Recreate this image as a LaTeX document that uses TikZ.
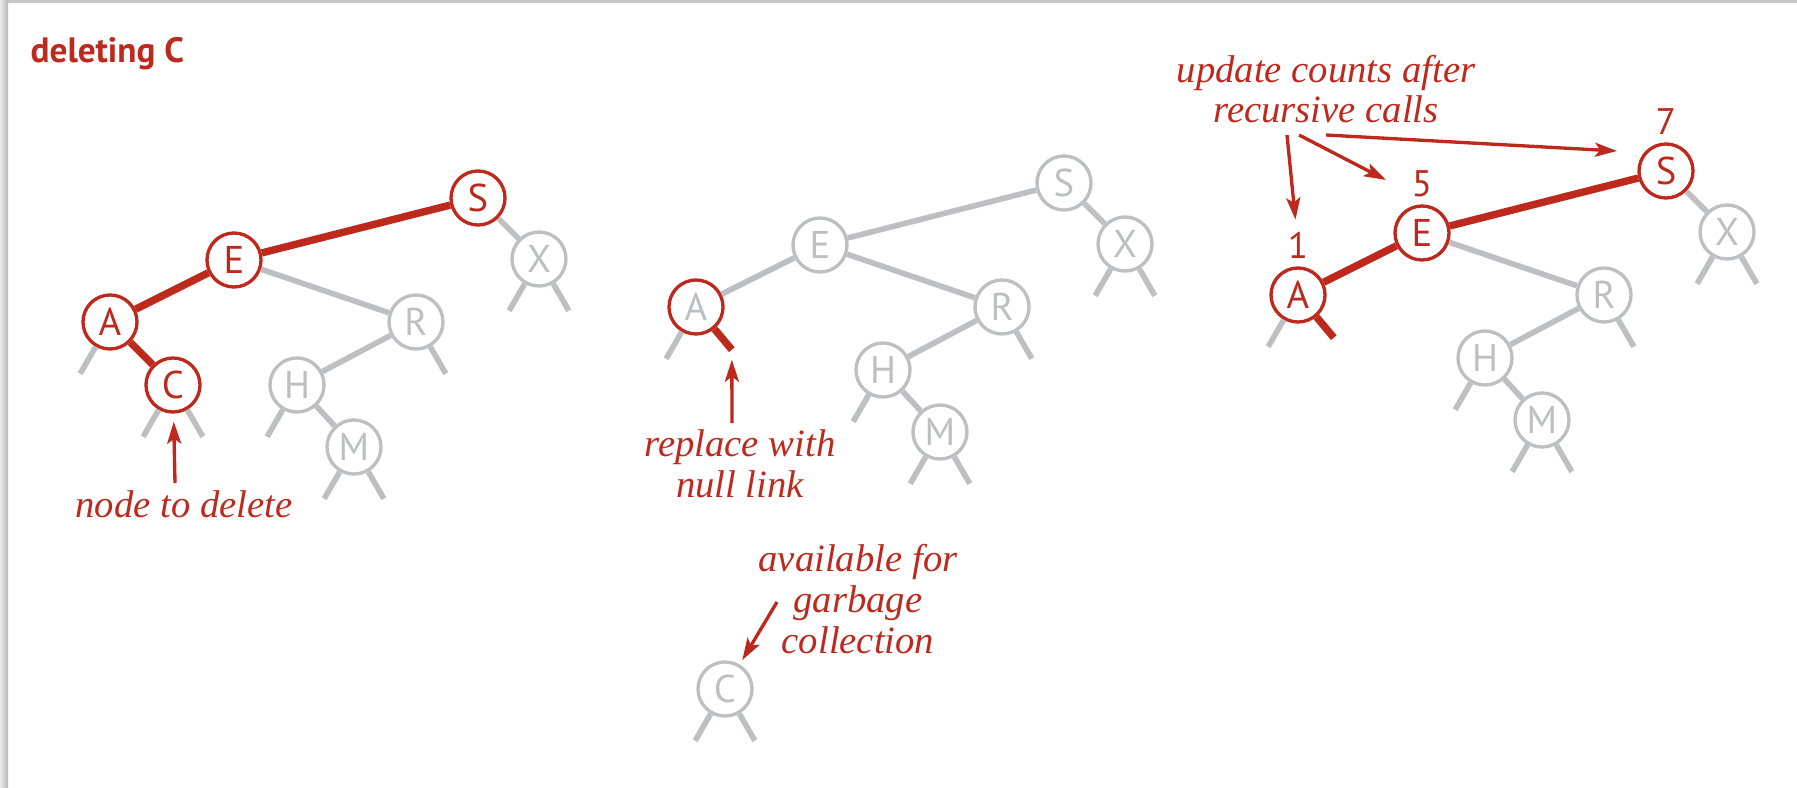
\documentclass[tikz,border=0pt]{standalone}
\usepackage{fontspec}
\setmainfont{Liberation Serif}
\setsansfont{PT Sans}
\usepackage{tikz}
\usetikzlibrary{arrows.meta, positioning}
\usepackage{xcolor}
\definecolor{vermelho}{RGB}{190,41,30}
\definecolor{cinza}{RGB}{190,191,195}

\begin{document}
\begin{tikzpicture}[x=0.01cm, y=-0.01cm,
    vertice/.style={circle, draw=cinza, text=cinza, fill=white, line width=0.95pt,
      minimum size=0.54cm, inner sep=0pt, font=\sffamily\fontsize{11}{11}\selectfont},
    ativo/.style={draw=vermelho, text=vermelho},
    aresta/.style={cinza, line width=1.6pt},
    arestaativa/.style={vermelho, line width=2.1pt},
    seta/.style={vermelho, line width=0.95pt, -{Stealth[length=0.22cm, width=0.14cm, inset=0.05cm]}},
    nota/.style={text=vermelho, font=\itshape\fontsize{11}{11.6}\selectfont, align=center, inner sep=0pt},
    numero/.style={text=vermelho, font=\sffamily\fontsize{10.5}{10.5}\selectfont, inner sep=0pt}]
    \useasboundingbox (0,0) rectangle (1797,788);

    % Moldura (sombra)
    \shade[left color=black!8, right color=black!28] (0,0) rectangle (8,788);
    \fill[black!22] (8,0) rectangle (1797,3);

    % Titulo
    \node[anchor=base west, inner sep=0pt, text=vermelho, font=\sffamily\bfseries\fontsize{10}{10}\selectfont] (titulo) at (30,63) {deleting C};

    % Arvore 1
    \node[vertice, ativo] (s1) at (478,198) {S};
    \node[vertice, ativo] (e1) at (234,260) {E};
    \node[vertice] (x1) at (539,259) {X};
    \node[vertice, ativo] (a1) at (110,322) {A};
    \node[vertice] (r1) at (416,322) {R};
    \node[vertice, ativo] (c1) at (173,385) {C};
    \node[vertice] (h1) at (297,385) {H};
    \node[vertice] (m1) at (354,447) {M};
    \draw[arestaativa] (e1) -- (s1);
    \draw[arestaativa] (a1) -- (e1);
    \draw[arestaativa] (a1) -- (c1);
    \draw[aresta] (s1) -- (x1);
    \draw[aresta] (e1) -- (r1);
    \draw[aresta] (r1) -- (h1);
    \draw[aresta] (h1) -- (m1);

    % Arvore 2
    \begin{scope}[shift={(586,-15)}]
    \node[vertice] (s2) at (478,198) {S};
    \node[vertice] (e2) at (234,260) {E};
    \node[vertice] (x2) at (539,259) {X};
    \node[vertice, draw=vermelho] (a2) at (110,322) {A};
    \node[vertice] (r2) at (416,322) {R};
    \node[vertice] (h2) at (297,385) {H};
    \node[vertice] (m2) at (354,447) {M};
    \end{scope}
    \draw[aresta] (e2) -- (s2);
    \draw[aresta] (a2) -- (e2);
    \draw[aresta] (s2) -- (x2);
    \draw[aresta] (e2) -- (r2);
    \draw[aresta] (r2) -- (h2);
    \draw[aresta] (h2) -- (m2);
    \draw[arestaativa] (a2.-50) -- ++(-50:0.27cm) coordinate (z2);

    % No removido
    \node[vertice] (cx) at (725,689) {C};

    % Arvore 3
    \begin{scope}[shift={(1188,-27)}]
    \node[vertice, ativo] (s3) at (478,198) {S};
    \node[vertice, ativo] (e3) at (234,260) {E};
    \node[vertice] (x3) at (539,259) {X};
    \node[vertice, ativo] (a3) at (110,322) {A};
    \node[vertice] (r3) at (416,322) {R};
    \node[vertice] (h3) at (297,385) {H};
    \node[vertice] (m3) at (354,447) {M};
    \end{scope}
    \draw[arestaativa] (e3) -- (s3);
    \draw[arestaativa] (a3) -- (e3);
    \draw[aresta] (s3) -- (x3);
    \draw[aresta] (e3) -- (r3);
    \draw[aresta] (r3) -- (h3);
    \draw[aresta] (h3) -- (m3);
    \draw[arestaativa] (a3.-50) -- ++(-50:0.27cm);

    % Links nulos
    \foreach \v in {a1,c1,h1,m1,x1,h2,m2,x2,a2,cx,a3,h3,m3,x3}
        \draw[aresta] (\v.-120) -- ++(-120:0.31cm);
    \foreach \v in {c1,m1,r1,x1,m2,r2,x2,cx,m3,r3,x3}
        \draw[aresta] (\v.-60) -- ++(-60:0.31cm);

    % Contagens
    \node[numero, above=0.07cm of a3] (n1) {1};
    \node[numero, above=0.07cm of e3] (n5) {5};
    \node[numero, above=0.07cm of s3] (n7) {7};

    % Notas (base = ultima linha)
    \node[nota, anchor=base] (t1) at (184,517) {node to delete};
    \node[nota, anchor=base] (t2) at (740,497) {replace with\\null link};
    \node[nota, anchor=base] (t3) at (858,653) {available for\\garbage\\collection};
    \node[nota, anchor=base] (t4) at (1326,123) {update counts after\\recursive calls};

    % Setas
    \coordinate (p1) at (175,483);
    \coordinate (p2) at (732,423);
    \coordinate (p3) at (777,602);
    \coordinate (u1) at (1287,135);
    \coordinate (u2) at (1299,135);
    \coordinate (u3) at (1326,135);
    \coordinate (v2) at (1386,180);
    \coordinate (v3) at (1617,151);
    \draw[seta, shorten >=0.08cm] (p1) -- (c1);
    \draw[seta, shorten >=0.1cm] (p2) -- (z2);
    \draw[seta, shorten >=0.05cm] (p3) -- (cx);
    \draw[seta, shorten >=0.12cm] (u1) -- (n1);
    \draw[seta] (u2) -- (v2);
    \draw[seta] (u3) -- (v3);
\end{tikzpicture}
\end{document}
